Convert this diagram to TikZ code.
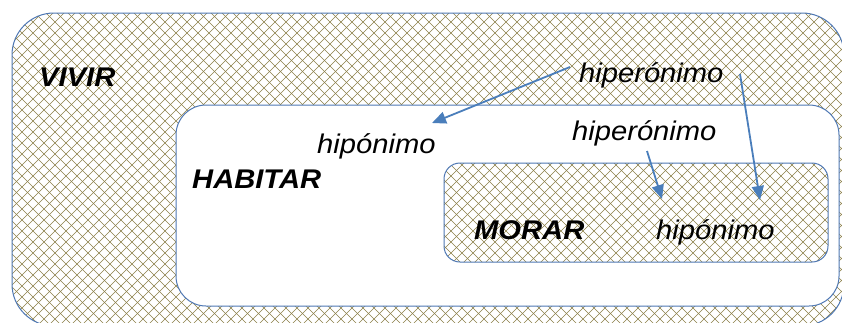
\documentclass[tikz,border=0pt]{standalone}
\usepackage{fontspec}
\setmainfont{Liberation Sans}
\usepackage{graphicx}
\usetikzlibrary{arrows.meta}
\definecolor{hatch}{RGB}{140,128,72}
\definecolor{edge}{RGB}{79,120,180}
\definecolor{arrowblue}{RGB}{74,126,187}
\newcommand\widetxt[1]{\scalebox{1.08}[1]{#1}}
\newcommand\hatchlines{%
  \foreach \c in {-341,-330,...,1180} {
    \draw[hatchline] (\c,0) -- ++(330,330);
    \draw[hatchline] (\c,0) -- ++(-330,330);
  }}
\tikzset{
 hatchline/.style={draw=hatch,line width=0.6pt},
 boxline/.style={draw=edge,line width=1pt},
 term/.style={anchor=base west,inner sep=0pt,font=\fontsize{27}{32}\selectfont\itshape},
 word/.style={anchor=base west,inner sep=0pt,font=\fontsize{27}{32}\selectfont\bfseries\itshape},
 rel/.style={draw=arrowblue,line width=1.8pt,-{Triangle[length=14pt,width=12pt]}}
}
\begin{document}
\begin{tikzpicture}[x=1pt,y=-1pt]
\useasboundingbox (0,0) rectangle (842,322);
\fill[white] (0,0) rectangle (842,322);
\begin{scope}
\clip (0,0) rectangle (842,322);
% outer box VIVIR
\begin{scope}
\clip[rounded corners=42pt] (12,13) rectangle (844,326);
\hatchlines
\end{scope}
\path[boxline,rounded corners=42pt] (12,13) rectangle (844,326);
% HABITAR box
\path[fill=white,boxline,rounded corners=30pt] (176,105) rectangle (839,306);
% MORAR box
\begin{scope}
\clip[rounded corners=16pt] (444,163) rectangle (828,262);
\hatchlines
\end{scope}
\path[boxline,rounded corners=16pt] (444,163) rectangle (828,262);
\end{scope}
% labels
\node[word] (vivir) at (39,86) {\widetxt{VIVIR}};
\node[word] (habitar) at (192,188) {\widetxt{HABITAR}};
\node[word] (morar) at (474,239) {\widetxt{MORAR}};
\node[term] (hiper1) at (579,82) {\widetxt{hiperónimo}};
\node[term] (hiper2) at (572,140) {\widetxt{hiperónimo}};
\node[term] (hipo1) at (317,153) {\widetxt{hipónimo}};
\node[term] (hipo2) at (656,239) {\widetxt{hipónimo}};
% arrow end points
\coordinate (a1s) at (570,67);
\coordinate (a1e) at (432,123);
\coordinate (a2s) at (740,74);
\coordinate (a2e) at (760,200);
\coordinate (a3s) at (647,151);
\coordinate (a3e) at (662,199);
\draw[rel] (a1s) -- (a1e);
\draw[rel] (a2s) -- (a2e);
\draw[rel] (a3s) -- (a3e);
\end{tikzpicture}
\end{document}
